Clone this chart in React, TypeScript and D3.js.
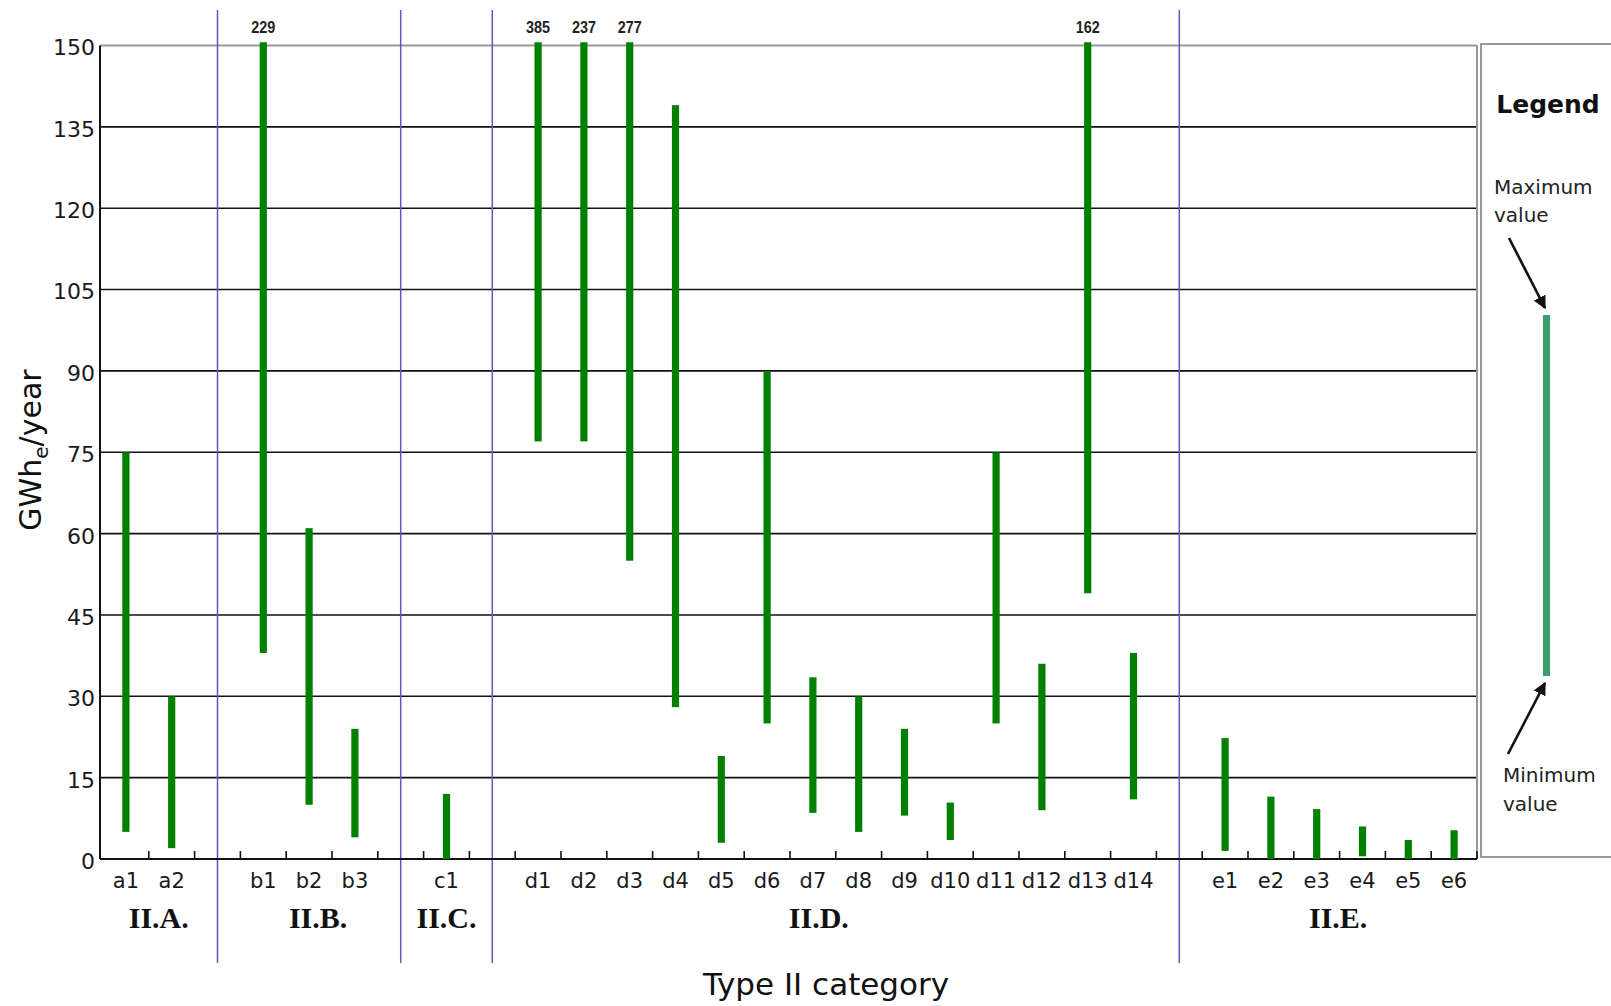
import React from 'react';
import * as d3 from 'd3';

const W = 1611;
const H = 1006;

// categories per group, values in GWh_e/year
const groups = ['II.A.', 'II.B.', 'II.C.', 'II.D.', 'II.E.'];
const groupCategories = [
  ['a1', 'a2'],
  ['b1', 'b2', 'b3'],
  ['c1'],
  ['d1', 'd2', 'd3', 'd4', 'd5', 'd6', 'd7', 'd8', 'd9', 'd10', 'd11', 'd12', 'd13', 'd14'],
  ['e1', 'e2', 'e3', 'e4', 'e5', 'e6'],
];
const minValues = [
  5, 2,
  38, 10, 4,
  0,
  77, 77, 55, 28, 3, 25, 8.5, 5, 8, 3.5, 25, 9, 49, 11,
  1.5, 0, 0, 0.5, 0, 0,
];
const maxValues = [
  75, 30,
  229, 61, 24,
  12,
  385, 237, 277, 139, 19, 90, 33.5, 30, 24, 10.4, 75, 36, 162, 38,
  22.3, 11.5, 9.2, 6, 3.5, 5.3,
];
const yTicks = [0, 15, 30, 45, 60, 75, 90, 105, 120, 135, 150];

// small layout nudges for the group titles (px)
const groupLabelNudge = [0, 9, 0, -17, 10];

const MARGIN = { top: 45.5, right: 1477, bottom: 859, left: 100 };
const FONT = '"DejaVu Sans", Verdana, sans-serif';

export default function App() {
  // slot domain: categories with one empty slot between groups
  const slots: string[] = [];
  groupCategories.forEach((cats, i) => {
    slots.push(...cats);
    if (i < groupCategories.length - 1) slots.push(`gap${i}`);
  });
  const categories = groupCategories.flat();

  const x = d3.scaleBand<string>().domain(slots).range([MARGIN.left + 3, MARGIN.right]).padding(0);
  const y = d3.scaleLinear().domain([0, 150]).range([MARGIN.bottom, MARGIN.top]);
  const bw = x.bandwidth();
  const cx = (k: string) => (x(k) as number) + bw / 2;

  const gapKeys = slots.filter(s => s.startsWith('gap'));
  const sepX = gapKeys.map(cx);
  const sectionEdges = [MARGIN.left, ...sepX, MARGIN.right];
  const boundaries = slots.slice(1).map(s => x(s) as number).concat([MARGIN.right]);

  const barColor = '#008000';
  const clipTop = y(150.6);

  return (
    <div style={{ position: 'fixed', left: 0, top: 0 }}>
      <svg width={W} height={H} style={{ display: 'block', background: '#fff' }}>
        {/* gridlines */}
        {yTicks.filter(t => t > 0 && t < 150).map(t => (
          <line key={t} x1={MARGIN.left} x2={MARGIN.right} y1={y(t)} y2={y(t)} stroke="#111" strokeWidth={1.6} />
        ))}
        {/* plot frame top/right */}
        <line x1={MARGIN.left} x2={MARGIN.right} y1={y(150)} y2={y(150)} stroke="#999" strokeWidth={2} />
        <line x1={MARGIN.right} x2={MARGIN.right} y1={y(150)} y2={y(0)} stroke="#999" strokeWidth={2} />

        {/* group separators */}
        {sepX.map((sx, i) => (
          <line key={i} x1={sx} x2={sx} y1={10} y2={963} stroke="#5a5abf" strokeWidth={1.5} />
        ))}

        {/* axes */}
        <line x1={MARGIN.left} x2={MARGIN.left} y1={y(150)} y2={y(0)} stroke="#111" strokeWidth={2} />
        <line x1={MARGIN.left} x2={MARGIN.right} y1={y(0)} y2={y(0)} stroke="#111" strokeWidth={2.2} />
        {boundaries.map((bx, i) => (
          <line key={i} x1={bx} x2={bx} y1={y(0)} y2={y(0) - 8} stroke="#111" strokeWidth={1.6} />
        ))}
        {yTicks.map(t => (
          <text key={t} x={95} y={y(t) + 2} dy="0.36em" textAnchor="end" fontFamily={FONT} fontSize={22} fill="#1a1a1a">{t}</text>
        ))}

        {/* range bars */}
        {categories.map((c, i) => {
          const top = maxValues[i] > 150 ? clipTop : y(maxValues[i]);
          const bottom = y(minValues[i]);
          return (
            <g key={c}>
              <rect x={cx(c) - 3.6} width={7.2} y={top} height={bottom - top} fill={barColor} />
              {maxValues[i] > 150 && (
                <text x={cx(c)} y={33} textAnchor="middle" fontFamily='"Liberation Sans", Arial, sans-serif'
                  fontWeight="bold" fontSize={17} textLength={24} lengthAdjust="spacingAndGlyphs" fill="#222">
                  {maxValues[i]}
                </text>
              )}
              <text x={cx(c)} y={888} textAnchor="middle" fontFamily={FONT} fontSize={21} fill="#1a1a1a">{c}</text>
            </g>
          );
        })}

        {/* group titles */}
        {groups.map((g, i) => (
          <text key={g} x={(sectionEdges[i] + sectionEdges[i + 1]) / 2 + groupLabelNudge[i]} y={928}
            textAnchor="middle" fontFamily='"Liberation Serif", "Times New Roman", serif' fontWeight="bold" fontSize={30} fill="#111">
            {g}
          </text>
        ))}

        {/* axis titles */}
        <text x={826} y={995} textAnchor="middle" fontFamily={FONT} fontSize={31} fill="#111">Type II category</text>
        <text transform="translate(41,450) rotate(-90)" textAnchor="middle" fontFamily={FONT} fontSize={30} fill="#111">
          GWh<tspan fontSize={20} dy={7}>e</tspan><tspan dy={-7}>/year</tspan>
        </text>

        {/* legend */}
        <rect x={1481} y={44} width={140} height={813} fill="#fff" stroke="#999" strokeWidth={2} />
        <text x={1548} y={113} textAnchor="middle" fontFamily={FONT} fontWeight="bold" fontSize={25} fill="#111">Legend</text>
        <text x={1494} y={194} fontFamily={FONT} fontSize={20} fill="#222">Maximum</text>
        <text x={1494} y={222} fontFamily={FONT} fontSize={20} fill="#222">value</text>
        <rect x={1543} y={315} width={7} height={361} fill="#3a9f6b" />
        <defs>
          <marker id="arrow" viewBox="0 0 10 10" refX={9} refY={5} markerWidth={5} markerHeight={5} orient="auto">
            <path d="M0,0 L10,5 L0,10 z" fill="#111" />
          </marker>
        </defs>
        <line x1={1509} y1={238} x2={1545} y2={308} stroke="#111" strokeWidth={2.6} markerEnd="url(#arrow)" />
        <line x1={1508} y1={754} x2={1545} y2={683} stroke="#111" strokeWidth={2.6} markerEnd="url(#arrow)" />
        <text x={1503} y={782} fontFamily={FONT} fontSize={20} fill="#222">Minimum</text>
        <text x={1503} y={811} fontFamily={FONT} fontSize={20} fill="#222">value</text>
      </svg>
    </div>
  );
}
